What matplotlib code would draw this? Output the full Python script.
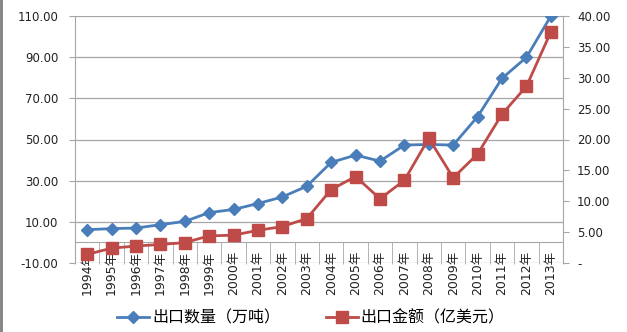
import matplotlib
matplotlib.use("Agg")
import matplotlib.pyplot as plt
import matplotlib.patches as patches
from matplotlib.ticker import FixedLocator, FuncFormatter

plt.rcParams['font.family'] = ['DejaVu Sans', 'Noto Sans CJK SC']

years = [f"{y}年" for y in range(1994, 2014)]
# 出口数量（万吨）
volume = [6.2, 6.7, 7.0, 8.6, 10.2, 14.5, 16.0, 18.9, 22.1, 27.3,
          38.9, 42.4, 39.5, 47.3, 47.6, 47.3, 61.1, 79.7, 89.9, 109.9]
# 出口金额（亿美元）
value = [1.4, 2.4, 2.75, 3.0, 3.3, 4.4, 4.5, 5.3, 5.9, 7.2,
         11.9, 14.0, 10.4, 13.4, 20.2, 13.8, 17.65, 24.1, 28.6, 37.4]

blue = '#4A7EBB'
red = '#BE4B48'
grey = '#A6A6A6'

fig = plt.figure(figsize=(6.27, 3.32), dpi=100)
ax = fig.add_axes([75 / 627, 1 - 263 / 332, 488 / 627, 247 / 332])
ax2 = ax.twinx()

x = list(range(len(years)))
l1, = ax.plot(x, volume, color=blue, lw=2.0, marker='D', ms=6.5,
              markeredgecolor=blue, label='出口数量（万吨）', zorder=3)
l2, = ax2.plot(x, value, color=red, lw=2.0, marker='s', ms=8,
               markeredgecolor=red, label='出口金额（亿美元）', zorder=3)

ax.set_xlim(-0.5, len(years) - 0.5)
ax.set_ylim(-10, 110)
ax.set_yticks(range(-10, 111, 20))
ax.yaxis.set_major_formatter(FuncFormatter(lambda v, p: f"{v:.2f}"))
ax.grid(axis='y', color=grey, lw=0.9)
ax.set_axisbelow(True)

ax2.set_ylim(0, 40)
ax2.set_yticks(range(0, 41, 5))
ax2.yaxis.set_major_formatter(
    FuncFormatter(lambda v, p: '-' if v == 0 else f"{v:.2f}"))

# category axis sits on zero, dividers between years
ax.spines['bottom'].set_position(('data', 0))
ax.set_xticks(x)
ax.set_xticklabels(years, rotation=90, fontsize=9)
ax.xaxis.set_minor_locator(FixedLocator([i - 0.5 for i in range(len(years) + 1)]))
ax.tick_params(axis='x', which='major', length=0, pad=6, colors='#222222')
ax.tick_params(axis='x', which='minor', length=15.5, color=grey, direction='out')
for lab in ax.get_xticklabels():
    lab.set_verticalalignment('top')

ax.tick_params(axis='y', length=4, color=grey, labelsize=8.5, pad=8,
               labelcolor='#222222')
ax2.tick_params(axis='y', length=4, color=grey, labelsize=8.5, pad=6,
                labelcolor='#222222')

for a in (ax, ax2):
    a.spines['top'].set_visible(False)
    for s in a.spines.values():
        s.set_color(grey)
ax2.spines['left'].set_visible(False)
ax2.spines['bottom'].set_visible(False)
ax.spines['right'].set_visible(False)

fig.legend(handles=[l1, l2], loc='center', ncol=2,
           bbox_to_anchor=(0.496, 0.042), frameon=False, fontsize=11.5,
           handlelength=2.0, columnspacing=2.9, handletextpad=0.15)

# chart frame edge on the left
fig.add_artist(patches.Rectangle((0, 0), 3 / 627, 1, transform=fig.transFigure,
                                 color='#888888', lw=0))

fig.savefig('out.png', dpi=100)
